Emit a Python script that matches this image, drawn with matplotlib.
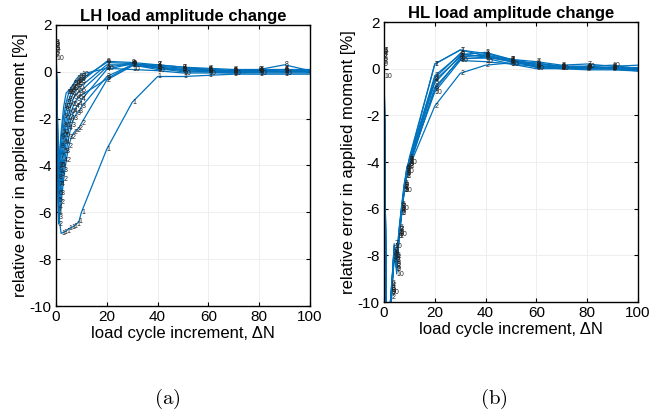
import matplotlib
matplotlib.use("Agg")
import matplotlib.pyplot as plt

plt.rcParams['font.family'] = ['Liberation Sans', 'DejaVu Sans']
plt.rcParams['mathtext.fontset'] = 'cm'
plt.rcParams['axes.unicode_minus'] = False

x_lh = [0, 1, 2, 3, 4, 5, 6, 7, 8, 9, 10, 20, 30, 40, 50, 60, 70, 80, 90, 100]
lh_series = {
    1: [1.0, -6.0, -6.9, -6.85, -6.8, -6.7, -6.65, -6.6, -6.5, -6.4, -6.0, -3.3, -1.3, -0.2, -0.2, -0.15, -0.1, -0.1, -0.1, -0.1],
    2: [1.1, -6.5, -5.6, -4.6, -3.8, -3.2, -2.8, -2.6, -2.5, -2.4, -2.2, -0.35, 0.25, 0.2, 0.05, 0.0, 0.0, 0.05, 0.0, 0.0],
    3: [0.9, -6.2, -5.2, -4.2, -3.4, -2.8, -2.3, -2.0, -1.8, -1.7, -1.5, -0.2, 0.3, 0.1, 0.1, 0.05, 0.0, 0.0, 0.05, 0.0],
    4: [1.2, -5.8, -4.8, -3.8, -3.0, -2.4, -2.0, -1.7, -1.5, -1.4, -1.2, 0.1, 0.35, 0.25, 0.15, 0.1, 0.05, 0.05, 0.1, 0.05],
    5: [0.8, -5.5, -4.4, -3.4, -2.7, -2.1, -1.7, -1.4, -1.2, -1.1, -1.0, -0.3, 0.3, 0.2, 0.1, 0.1, 0.05, 0.0, 0.0, 0.05],
    6: [1.0, -5.2, -4.0, -3.0, -2.3, -1.8, -1.4, -1.1, -0.95, -0.85, -0.8, 0.2, 0.35, 0.15, 0.0, 0.0, -0.05, 0.0, 0.1, 0.0],
    7: [0.7, -4.8, -3.6, -2.7, -2.0, -1.5, -1.1, -0.9, -0.75, -0.65, -0.6, 0.3, 0.3, 0.3, 0.2, 0.15, 0.1, 0.1, 0.1, 0.1],
    8: [1.25, -4.5, -3.2, -2.3, -1.6, -1.2, -0.9, -0.7, -0.55, -0.5, -0.4, 0.45, 0.4, 0.3, 0.2, 0.1, 0.05, 0.1, 0.3, 0.05],
    9: [1.15, -4.2, -2.8, -1.9, -1.3, -0.9, -0.65, -0.5, -0.4, -0.35, -0.3, 0.4, 0.35, 0.2, 0.1, 0.05, 0.0, 0.0, 0.0, 0.0],
    10: [0.55, -4.0, -2.6, -1.5, -0.9, -0.8, -0.7, -0.5, -0.3, -0.2, -0.1, 0.15, 0.1, 0.05, -0.05, -0.05, -0.05, -0.05, -0.05, -0.05],
}

x_hl = [0, 1, 2, 3, 4, 5, 6, 7, 8, 9, 10, 20, 30, 40, 50, 60, 70, 80, 90, 100]
hl_series = {
    1: [0.8, -12, -11.0, -9.4, -7.6, -8.2, -7.0, -6.0, -5.1, -4.4, -3.8, 0.2, 0.8, 0.65, 0.4, 0.2, 0.1, 0.1, 0.05, 0.0],
    2: [0.5, -12, -11.2, -9.8, -8.0, -8.6, -7.2, -6.2, -5.2, -4.6, -4.2, -1.6, -0.2, 0.15, 0.25, 0.2, 0.1, 0.0, 0.0, -0.1],
    3: [0.7, -12, -11.0, -9.5, -7.7, -8.3, -6.9, -5.9, -5.0, -4.3, -3.9, -0.3, 0.6, 0.7, 0.4, 0.15, 0.05, 0.05, 0.0, -0.05],
    4: [0.6, -12, -10.8, -9.3, -7.9, -8.1, -7.1, -6.1, -5.1, -4.2, -4.0, -0.5, 0.5, 0.6, 0.35, 0.1, 0.0, 0.0, 0.0, 0.0],
    5: [0.4, -12, -10.6, -9.6, -8.1, -8.4, -7.0, -6.0, -5.0, -4.5, -4.1, -0.6, 0.55, 0.55, 0.3, 0.1, 0.05, 0.0, 0.05, 0.05],
    6: [0.75, -12, -10.9, -9.2, -7.8, -8.0, -6.8, -5.8, -4.9, -4.3, -3.9, -0.4, 0.65, 0.5, 0.3, 0.25, 0.1, 0.1, 0.0, 0.0],
    7: [0.8, -12, -11.1, -9.7, -7.5, -8.2, -6.9, -5.9, -5.1, -4.4, -3.9, 0.2, 0.8, 0.55, 0.4, 0.3, 0.15, 0.2, 0.1, 0.15],
    8: [0.3, -12, -10.7, -9.4, -8.2, -8.5, -7.2, -6.1, -5.2, -4.6, -4.2, -0.8, 0.4, 0.5, 0.35, 0.05, 0.0, -0.05, -0.05, -0.1],
    9: [0.2, -12, -10.5, -9.5, -7.9, -8.6, -7.0, -6.2, -5.2, -4.5, -4.1, -0.9, 0.45, 0.45, 0.2, 0.1, 0.05, 0.05, 0.0, -0.05],
    10: [-0.35, -12, -10.9, -9.6, -7.6, -8.8, -7.1, -6.0, -5.2, -4.4, -4.0, -1.0, 0.35, 0.3, 0.2, 0.0, 0.0, 0.1, 0.15, 0.0],
}

titles = ["LH load amplitude change", "HL load amplitude change"]
panel_labels = ["(a)", "(b)"]
xticks = [0, 20, 40, 60, 80, 100]
yticks = [-10, -8, -6, -4, -2, 0, 2]

LINE_COLOR = '#0072BD'

fig = plt.figure(figsize=(6.5, 4.19), dpi=100)
ax1 = fig.add_axes([56/650, 1-306/419, 254/650, 281/419])
ax2 = fig.add_axes([384/650, 1-302/419, 254/650, 280/419])

for ax, xs, series, title in [(ax1, x_lh, lh_series, titles[0]),
                              (ax2, x_hl, hl_series, titles[1])]:
    for k, ys in series.items():
        ax.plot(xs, ys, color=LINE_COLOR, lw=0.9, clip_on=True)
        for xv, yv in zip(xs, ys):
            ax.text(xv, yv, str(k), fontsize=5, color='#222222',
                    ha='left', va='center', clip_on=True)
    ax.set_xlim(0, 100)
    ax.set_ylim(-10, 2)
    ax.set_xticks(xticks)
    ax.set_yticks(yticks)
    ax.grid(True, color='#ebebeb', lw=0.6)
    ax.set_axisbelow(True)
    ax.tick_params(direction='in', top=True, right=True, labelsize=11, length=3, width=0.8, pad=3)
    for s in ax.spines.values():
        s.set_linewidth(1.0)
        s.set_color('black')
    ax.set_title(title, fontsize=12, fontweight='bold', pad=3)
    ax.set_xlabel("load cycle increment, ΔN", fontsize=12, labelpad=1)
    ax.set_ylabel("relative error in applied moment [%]", fontsize=12, labelpad=1)

fig.text(167/650, 1-399/419, r'$\mathrm{' + panel_labels[0] + '}$', fontsize=15, ha='center', va='center')
fig.text(494/650, 1-399/419, r'$\mathrm{' + panel_labels[1] + '}$', fontsize=15, ha='center', va='center')

fig.savefig('out.png', dpi=100, facecolor='white')
